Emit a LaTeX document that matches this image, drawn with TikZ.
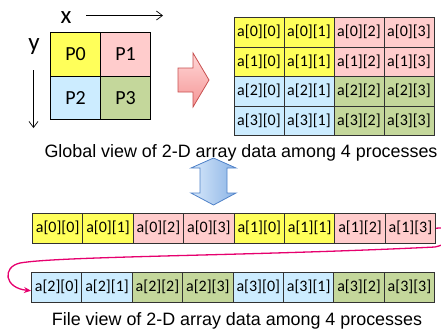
\documentclass[tikz,border=0pt]{standalone}
\usepackage{fontspec}
\setmainfont{Liberation Sans}
\newfontfamily\calib{Carlito}
\usetikzlibrary{arrows.meta}
\definecolor{cyel}{RGB}{255,255,90}
\definecolor{cpink}{RGB}{255,204,204}
\definecolor{cblue}{RGB}{204,236,255}
\definecolor{cgreen}{RGB}{196,215,155}
\definecolor{cmag}{RGB}{230,0,110}
\definecolor{cline}{RGB}{50,50,50}
\begin{document}
\begin{tikzpicture}[x=1pt,y=-1pt,
 cell/.style={draw=cline, line width=0.9pt, minimum width=50.4pt, minimum height=29.5pt, inner sep=0pt, font=\calib\fontsize{16}{16}\selectfont, anchor=north west},
 gcell/.style={cell, minimum width=50pt},
 pcell/.style={draw=black, line width=1pt, minimum width=50pt, minimum height=43.5pt, inner sep=0pt, font=\calib\fontsize{20}{20}\selectfont, anchor=north west},
 caption/.style={font=\fontsize{17.9}{18}\selectfont, inner sep=0pt, anchor=base},
 axlab/.style={font=\calib\fontsize{25}{25}\selectfont, inner sep=0pt, anchor=base},
 axis/.style={line width=0.7pt, -{Straight Barb[length=6pt,width=9pt]}},
 conn/.style={draw=cmag, line width=1.3pt, -{Stealth[length=7pt,width=6pt]}},
 redarrow/.style={draw={rgb,255:red,200;green,80;blue,80}, line width=0.8pt, top color={rgb,255:red,255;green,215;blue,215}, bottom color={rgb,255:red,245;green,150;blue,150}},
 bluearrow/.style={draw={rgb,255:red,80;green,130;blue,200}, line width=0.8pt, left color={rgb,255:red,215;green,232;blue,250}, right color={rgb,255:red,140;green,180;blue,230}}
]
\useasboundingbox (0,0) rectangle (441,333);

% process grid
\node[pcell, fill=cyel] (p0) at (50,32) {P0};
\node[pcell, fill=cpink] (p1) at (100,32) {P1};
\node[pcell, fill=cblue] (p2) at (50,75.5) {P2};
\node[pcell, fill=cgreen] (p3) at (100,75.5) {P3};

% axes
\node[axlab] (xl) at (66,23) {x};
\node[axlab] (yl) at (34,50) {y};
\coordinate (xa) at (86,15.5);
\coordinate (xb) at (163,15.5);
\coordinate (ya) at (33.5,70);
\coordinate (yb) at (33.5,128);
\draw[axis] (xa) -- (xb);
\draw[axis] (ya) -- (yb);

% red block arrow
\path[redarrow] (178,68) -- (193,68) -- (193,53) -- (209,80) -- (193,107) -- (193,92) -- (178,92) -- cycle;

% global array grid
\foreach \r/\ca/\cb in {0/cyel/cpink,1/cyel/cpink,2/cblue/cgreen,3/cblue/cgreen}{
  \foreach \c/\cc in {0/\ca,1/\ca,2/\cb,3/\cb}{
    \node[gcell, fill=\cc] (g\r\c) at ({233.5+50*\c},{17+29.5*\r}) {a[\r][\c]};
  }
}

\node[caption] (cap1) at (241,157) {Global view of 2-D array data among 4 processes};

% blue double arrow
\path[bluearrow] (200,168) -- (191,168) -- (213.5,158) -- (236,168) -- (227,168) -- (227,193) -- (236,193) -- (213.5,205) -- (191,193) -- (200,193) -- cycle;

% file view rows
\foreach \i/\r/\c/\cc in {0/0/0/cyel,1/0/1/cyel,2/0/2/cpink,3/0/3/cpink,4/1/0/cyel,5/1/1/cyel,6/1/2/cpink,7/1/3/cpink}{
  \node[cell, fill=\cc] (f\i) at ({32+50.4*\i},213) {a[\r][\c]};
}
\foreach \i/\r/\c/\cc in {0/2/0/cblue,1/2/1/cblue,2/2/2/cgreen,3/2/3/cgreen,4/3/0/cblue,5/3/1/cblue,6/3/2/cgreen,7/3/3/cgreen}{
  \node[cell, fill=\cc] (s\i) at ({31+50.4*\i},272) {a[\r][\c]};
}

\draw[conn] (f7.east) .. controls (455,226) and (458,242) .. (435,247)
  .. controls (250,256) and (60,256) .. (20,263)
  .. controls (2,267) and (4,288) .. ([yshift=-3.5pt]s0.west);

\node[caption] (cap2) at (237,325) {File view of 2-D array data among 4 processes};
\end{tikzpicture}
\end{document}
